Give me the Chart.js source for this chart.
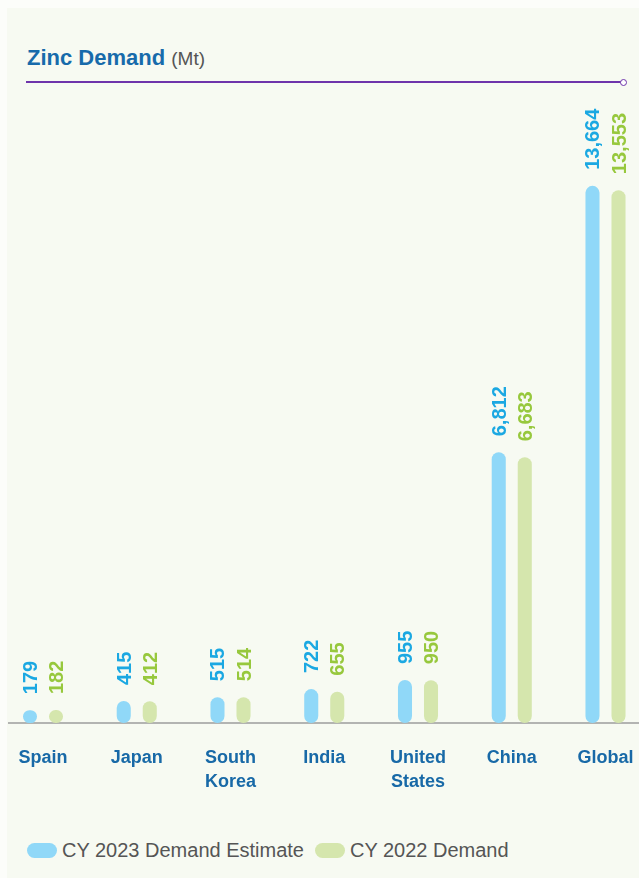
<!DOCTYPE html>
<html>
<head>
<meta charset="utf-8">
<title>Zinc Demand</title>
<script src="https://cdn.jsdelivr.net/npm/chart.js@4.4.0/dist/chart.umd.min.js"></script>
<style>
    html, body { margin: 0; padding: 0; }
    body {
        width: 639px; height: 878px; position: relative; overflow: hidden;
        background: #fcfdfa;
        font-family: "Liberation Sans", Arial, sans-serif;
    }
    #panel { position: absolute; left: 7px; top: 8px; right: 0; bottom: 0; background: #f7faf2; }
    #title {
        position: absolute; left: 27px; top: 47px; white-space: nowrap;
        font-size: 22px; line-height: 22px; font-weight: bold; color: #176bab;
    }
    #title span { font-size: 19px; font-weight: normal; color: #555; }
    #rule { position: absolute; left: 26px; top: 81px; width: 595px; height: 2px; background: #6e34ab; }
    #dot {
        position: absolute; left: 620px; top: 79px; width: 5px; height: 5px;
        border: 1.5px solid #6e34ab; border-radius: 50%; background: #fff;
    }
    #chart { position: absolute; left: 0; top: 90px; }
    #legend {
        position: absolute; left: 27px; top: 839px; display: flex; align-items: center;
        font-size: 20px; color: #555; white-space: nowrap;
    }
    #legend .item { display: flex; align-items: center; margin-right: 11px; }
    #legend .swatch { width: 30px; height: 15px; border-radius: 8px; margin-right: 5px; }
</style>
</head>
<body>
<div id="panel"></div>
<div id="title">Zinc Demand <span>(Mt)</span></div>
<div id="rule"></div>
<div id="dot"></div>
<canvas id="chart" width="639" height="744"></canvas>
<div id="legend"></div>

<script>
    // Data
    var categories = [["Spain"], ["Japan"], ["South", "Korea"], ["India"], ["United", "States"], ["China"], ["Global"]];
    var demand2023 = [179, 415, 515, 722, 955, 6812, 13664];
    var demand2022 = [182, 412, 514, 655, 950, 6683, 13553];
    var seriesNames = ["CY 2023 Demand Estimate", "CY 2022 Demand"];

    var barColors = ["#90d8f8", "#d5e6ad"];
    var labelColors = ["#1ba8e2", "#97c83d"];
    var FONT = '"Liberation Sans", Arial, sans-serif';
    var BASE_VALUE = -150;

    // Baseline under the bars
    var baseLine = {
        id: 'baseLine',
        beforeDatasetsDraw: function (chart) {
            var ctx = chart.ctx;
            var y = chart.scales.y.getPixelForValue(BASE_VALUE);
            ctx.save();
            ctx.strokeStyle = '#9c9c9c';
            ctx.lineWidth = 1.5;
            ctx.beginPath();
            ctx.moveTo(8, y);
            ctx.lineTo(chart.width, y);
            ctx.stroke();
            ctx.restore();
        }
    };

    // Rotated value labels above bars
    var valueLabels = {
        id: 'valueLabels',
        afterDatasetsDraw: function (chart) {
            var ctx = chart.ctx;
            chart.data.datasets.forEach(function (ds, i) {
                var meta = chart.getDatasetMeta(i);
                meta.data.forEach(function (bar, j) {
                    ctx.save();
                    ctx.translate(bar.x, bar.y - 16);
                    ctx.rotate(-Math.PI / 2);
                    ctx.font = 'bold 20px ' + FONT;
                    ctx.fillStyle = labelColors[i];
                    ctx.textAlign = 'left';
                    ctx.textBaseline = 'alphabetic';
                    ctx.fillText(ds.data[j].toLocaleString('en-US'), 0, 7);
                    ctx.restore();
                });
            });
        }
    };

    var ctx = document.getElementById('chart').getContext('2d');
    var myChart = new Chart(ctx, {
        type: 'bar',
        data: {
            labels: categories,
            datasets: [{
                label: seriesNames[0],
                data: demand2023,
                backgroundColor: barColors[0]
            },
                {
                    label: seriesNames[1],
                    data: demand2022,
                    backgroundColor: barColors[1]
                }
            ]
        },
        options: {
            responsive: false,
            animation: false,
            base: BASE_VALUE,
            categoryPercentage: 0.555,
            barPercentage: 0.54,
            borderRadius: 7,
            borderSkipped: false,
            clip: false,
            layout: {padding: {left: 43, right: 33.5, top: 5, bottom: 17}},
            plugins: {
                legend: {display: false},
                tooltip: {enabled: false}
            },
            scales: {
                x: {
                    offset: false,
                    grid: {display: false, drawTicks: false},
                    border: {display: false},
                    ticks: {
                        color: '#1869a7',
                        font: {family: FONT, size: 18, weight: 'bold', lineHeight: 1.333},
                        padding: 23,
                        maxRotation: 0,
                        autoSkip: false
                    },
                    afterFit: function (scale) {
                        scale.paddingLeft = 0;
                        scale.paddingRight = 0;
                    }
                },
                y: {display: false, min: BASE_VALUE, max: 16000}
            }
        },
        plugins: [baseLine, valueLabels]
    });

    // Legend
    var legend = document.getElementById('legend');
    seriesNames.forEach(function (name, i) {
        legend.innerHTML += '<div class="item"><div class="swatch" style="background:' + barColors[i] + '"></div>' + name + '</div>';
    });
</script>
</body>
</html>
